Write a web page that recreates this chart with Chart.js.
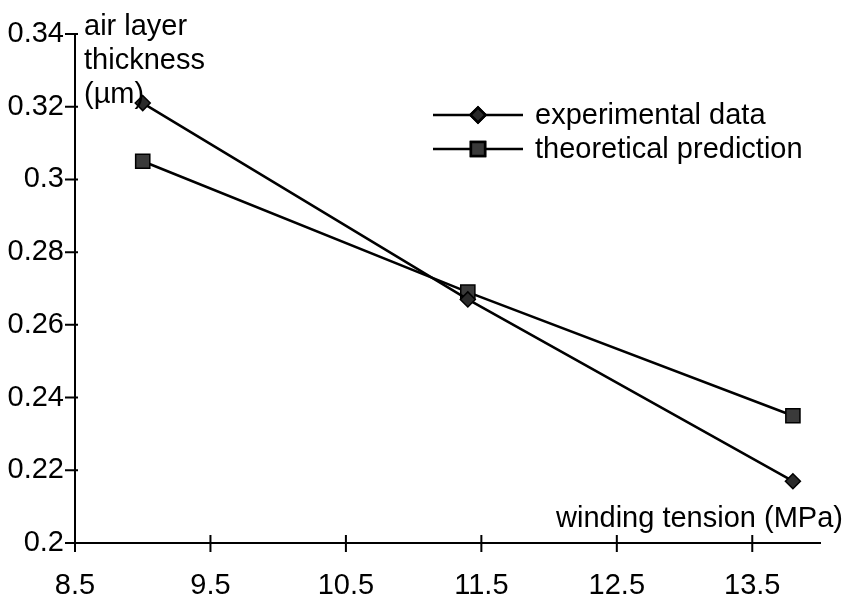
<!DOCTYPE html>
<html>
<head>
<meta charset="utf-8">
<script src="https://cdnjs.cloudflare.com/ajax/libs/Chart.js/4.4.1/chart.umd.min.js"></script>
<style>
  html,body{margin:0;padding:0;background:#fff;}
  #wrap{width:859px;height:602px;position:relative;}
</style>
</head>
<body>
<div id="wrap"><canvas id="c"></canvas></div>
<script>
// winding tension (MPa) vs air layer thickness (um)
const TENSION      = [9.0, 11.4, 13.8];
const EXPERIMENTAL = [0.321, 0.267, 0.217];
const THEORETICAL  = [0.305, 0.269, 0.235];
const X_TICKS = [8.5, 9.5, 10.5, 11.5, 12.5, 13.5];
const Y_TICKS = [0.2, 0.22, 0.24, 0.26, 0.28, 0.3, 0.32, 0.34];
const SERIES_NAMES = ['experimental data', 'theoretical prediction'];
const Y_TITLE = ['air layer', 'thickness', '(\u00b5m)'];
const X_TITLE = 'winding tension (MPa)';

const FONT = "'Liberation Sans', Arial, sans-serif";
const pts = ys => TENSION.map((x,i)=>({x, y:ys[i]}));

// crossing tick marks, legend and the two axis captions
const decor = {
  id:'decor',
  afterDraw(chart){
    const {ctx, scales:{x, y}} = chart;
    ctx.save();
    ctx.strokeStyle = '#000'; ctx.lineWidth = 2;
    const x0 = x.getPixelForValue(x.min), y0 = y.getPixelForValue(y.min);
    ctx.beginPath();
    Y_TICKS.forEach(v=>{ const py = y.getPixelForValue(v); ctx.moveTo(x0-10, py); ctx.lineTo(x0+3, py); });
    X_TICKS.forEach(v=>{ const px = x.getPixelForValue(v); ctx.moveTo(px, y0-8); ctx.lineTo(px, y0+9); });
    ctx.stroke();

    // legend
    ctx.font = '29px ' + FONT; ctx.fillStyle = '#000';
    ctx.textBaseline = 'middle'; ctx.textAlign = 'left';
    chart.data.datasets.forEach((ds, i)=>{
      const ly = 115 + i*34;
      ctx.lineWidth = 2.5;
      ctx.beginPath(); ctx.moveTo(433, ly); ctx.lineTo(523, ly); ctx.stroke();
      ctx.fillStyle = ds.backgroundColor;
      Chart.helpers.drawPoint(ctx, {pointStyle:ds.pointStyle, radius:ds.pointRadius, borderWidth:1.5}, 478, ly);
      ctx.fill(); ctx.stroke();
      ctx.fillStyle = '#000';
      ctx.fillText(ds.label, 535, ly + 1);
    });

    // axis captions
    Y_TITLE.forEach((s, i)=> ctx.fillText(s, 84, 27 + i*34));
    ctx.fillText(X_TITLE, 556, 519);
    ctx.restore();
  }
};

new Chart(document.getElementById('c'), {
  type:'line',
  data:{datasets:[
    {label:SERIES_NAMES[0], data:pts(EXPERIMENTAL), borderColor:'#000', borderWidth:2.5,
     backgroundColor:'#2a2a2a', pointStyle:'rectRot', pointRadius:7.5, pointBorderColor:'#000', pointBorderWidth:1.5, tension:0},
    {label:SERIES_NAMES[1], data:pts(THEORETICAL), borderColor:'#000', borderWidth:2.5,
     backgroundColor:'#3a3a3a', pointStyle:'rect', pointRadius:10, pointBorderColor:'#000', pointBorderWidth:1.5, tension:0},
  ]},
  options:{
    responsive:true, maintainAspectRatio:false, animation:false,
    layout:{padding:{top:34, right:39, left:0, bottom:0}},
    plugins:{legend:{display:false}, tooltip:{enabled:false}},
    scales:{
      x:{type:'linear', min:8.5, max:14,
         afterBuildTicks:s=>{ s.ticks = X_TICKS.map(v=>({value:v})); },
         afterFit:s=>{ s.height = 59; },
         grid:{display:false}, border:{display:true, color:'#000', width:2},
         ticks:{color:'#000', padding:18, maxRotation:0, font:{family:FONT, size:29},
                callback:v=>String(v)}},
      y:{type:'linear', min:0.2, max:0.34,
         afterBuildTicks:s=>{ s.ticks = Y_TICKS.map(v=>({value:v})); },
         afterFit:s=>{ s.width = 75; },
         grid:{display:false}, border:{display:true, color:'#000', width:2},
         ticks:{color:'#000', padding:3, font:{family:FONT, size:29},
                callback:v=>String(+v.toFixed(2))}}
    }
  },
  plugins:[decor]
});
</script>
</body>
</html>
